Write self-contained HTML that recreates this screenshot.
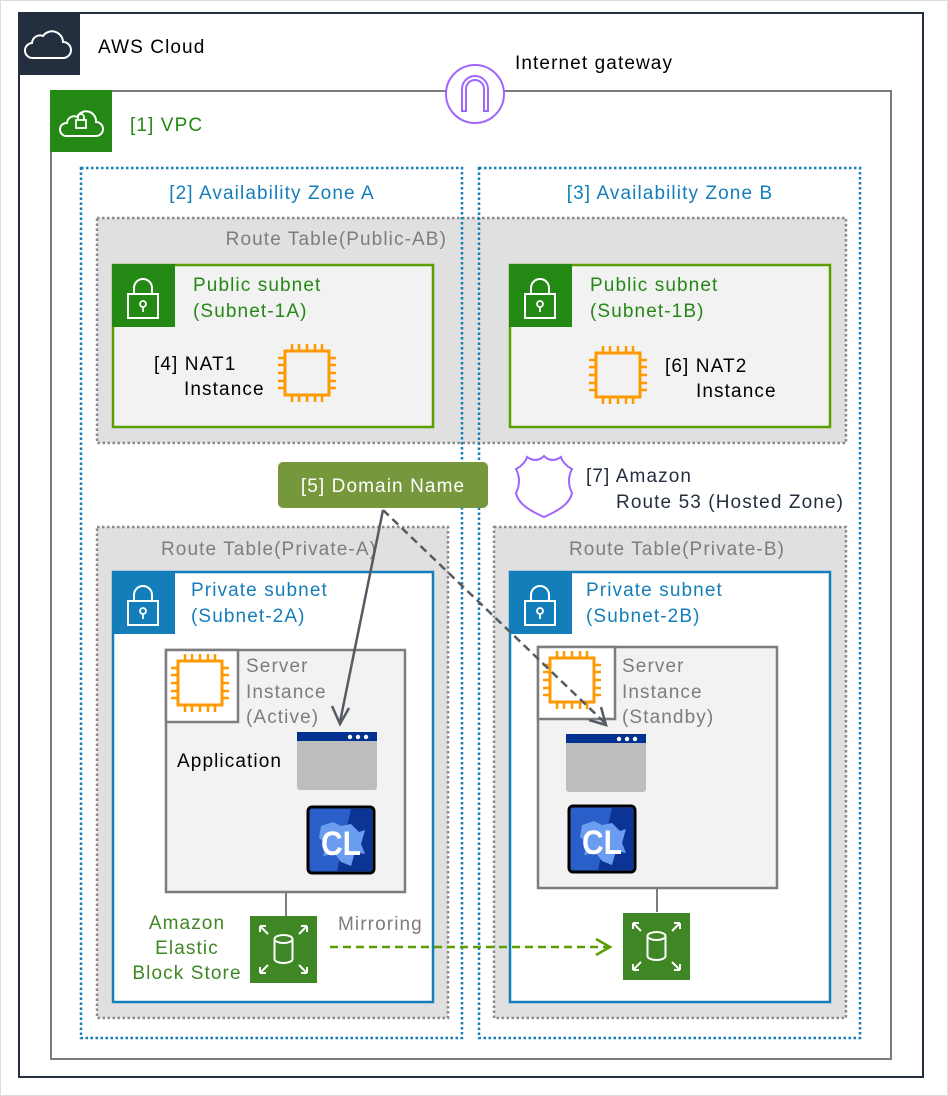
<!DOCTYPE html>
<html><head><meta charset="utf-8"><style>body{margin:0;background:#fff}svg{display:block}text{font-family:"Liberation Sans",sans-serif;font-size:19px;letter-spacing:1.1px}</style></head><body>
<svg width="948" height="1096" viewBox="0 0 948 1096" xmlns="http://www.w3.org/2000/svg">
<defs>
<g id="chip">
<rect x="7" y="7" width="44" height="44" fill="none" stroke="#ff9900" stroke-width="3"/>
<g stroke="#ff9900" stroke-width="2.5">
<path d="M14 0v7M21 0v7M29 0v7M37 0v7M44 0v7M14 51v7M21 51v7M29 51v7M37 51v7M44 51v7M0 14h7M0 21h7M0 29h7M0 37h7M0 44h7M51 14h7M51 21h7M51 29h7M51 37h7M51 44h7"/>
</g>
</g>
<g id="lockw">
<rect x="-15" y="-6" width="30" height="24" fill="none" stroke="#fff" stroke-width="2"/>
<path d="M-9 -6v-6a9 9 0 0 1 18 0v6" fill="none" stroke="#fff" stroke-width="2"/>
<circle cx="0" cy="4" r="3" fill="none" stroke="#fff" stroke-width="1.8"/>
<path d="M0 7v5" stroke="#fff" stroke-width="1.8"/>
</g>
<g id="win">
<rect x="0" y="0" width="80" height="58" rx="3" fill="#bdbdbd"/>
<rect x="0" y="0" width="80" height="9" fill="#03318f"/>
<circle cx="53" cy="5" r="2.2" fill="#fff"/><circle cx="61" cy="5" r="2.2" fill="#fff"/><circle cx="69" cy="5" r="2.2" fill="#fff"/>
</g>
<g id="cl">
<rect x="1" y="1" width="66" height="66" rx="4" fill="#2a5ec8" stroke="#000" stroke-width="3"/>
<path d="M44 3h21v62H30z" fill="#0c3494"/>
<path d="M14 20l12-4 8 4 10-2 8 8 6-2-4 14 4 10-10-2-4 14-10-4-6-8-12 2 4-12-8-6z" fill="#6a9cf0"/>
<text x="14" y="49" fill="#fff" textLength="40" lengthAdjust="spacingAndGlyphs" style="font-size:34px;font-weight:bold;letter-spacing:0">CL</text>
</g>
<g id="ebs">
<rect x="0" y="0" width="67" height="67" fill="#3f8624"/>
<g fill="none" stroke="#fff" stroke-width="2">
<ellipse cx="33.5" cy="23" rx="9" ry="4"/>
<path d="M24.5 23v20a9 4 0 0 0 18 0v-20"/>
<path d="M10 10l8 8M10 10h6M10 10v6M57 10l-8 8M57 10h-6M57 10v6M10 57l8-8M10 57h6M10 57v-6M57 57l-8-8M57 57h-6M57 57v-6"/>
</g>
</g>
</defs>
<rect x="0.5" y="0.5" width="947" height="1095" fill="#fff" stroke="#ddd"/>
<rect x="19" y="13" width="904" height="1064" fill="#fff" stroke="#232f3e" stroke-width="2"/>
<rect x="18" y="12" width="62" height="63" fill="#232f3e"/>
<path d="M33 58h30a8 8 0 0 0 0-16a11 11 0 0 0-20-6a8 8 0 0 0-11 7a7.5 7.5 0 0 0 1 15z" fill="none" stroke="#fff" stroke-width="2"/>
<text x="98" y="53" fill="#000">AWS Cloud</text>

<rect x="51" y="91" width="840" height="968" fill="#fff" stroke="#7d7d7d" stroke-width="2"/>
<rect x="50" y="90" width="62" height="62" fill="#248814"/>
<path d="M66 136h30a7 7 0 0 0 0-14a10 10 0 0 0-19-5a7 7 0 0 0-10 6a6.5 6.5 0 0 0-1 13z" fill="none" stroke="#fff" stroke-width="2"/>
<rect x="76" y="120" width="10" height="8" fill="none" stroke="#fff" stroke-width="1.8"/>
<path d="M78 120v-3a3 3 0 0 1 6 0v3" fill="none" stroke="#fff" stroke-width="1.8"/>
<text x="130" y="131" fill="#248814">[1] VPC</text>

<circle cx="475" cy="94" r="29" fill="#fff" stroke="#a166ff" stroke-width="2"/>
<path d="M462 111v-22a13 13 0 0 1 26 0v22h-4v-22a9 9 0 0 0-18 0v22z" fill="none" stroke="#a166ff" stroke-width="2"/>
<text x="515" y="69" fill="#000">Internet gateway</text>

<rect x="97" y="218" width="749" height="225" fill="#e0e0e0" stroke="#8a8a8a" stroke-width="2.5" stroke-dasharray="2.5 2.5"/>
<rect x="97" y="527" width="351" height="491" fill="#e0e0e0" stroke="#8a8a8a" stroke-width="2.5" stroke-dasharray="2.5 2.5"/>
<rect x="494" y="527" width="352" height="491" fill="#e0e0e0" stroke="#8a8a8a" stroke-width="2.5" stroke-dasharray="2.5 2.5"/>
<rect x="81" y="168" width="381" height="870" fill="none" stroke="#147eba" stroke-width="2.5" stroke-dasharray="2.5 2.5"/>
<rect x="479" y="168" width="381" height="870" fill="none" stroke="#147eba" stroke-width="2.5" stroke-dasharray="2.5 2.5"/>
<text x="272" y="199" fill="#147eba" text-anchor="middle">[2] Availability Zone A</text>
<text x="670" y="199" fill="#147eba" text-anchor="middle">[3] Availability Zone B</text>
<text x="447" y="245" fill="#7d7d7d" text-anchor="end">Route Table(Public-AB)</text>
<text x="269" y="555" fill="#7d7d7d" text-anchor="middle">Route Table(Private-A)</text>
<text x="677" y="555" fill="#7d7d7d" text-anchor="middle">Route Table(Private-B)</text>

<rect x="113" y="265" width="320" height="162" fill="#f2f2f2" stroke="#5a9e00" stroke-width="2.5"/>
<rect x="112" y="264" width="63" height="63" fill="#248814"/>
<use href="#lockw" x="143" y="300"/>
<text x="193" y="291" fill="#248814">Public subnet</text>
<text x="193" y="317" fill="#248814">(Subnet-1A)</text>
<text x="154" y="370" fill="#000">[4] NAT1</text>
<text x="184" y="395" fill="#000">Instance</text>
<use href="#chip" x="278" y="344"/>

<rect x="510" y="265" width="320" height="162" fill="#f2f2f2" stroke="#5a9e00" stroke-width="2.5"/>
<rect x="509" y="264" width="63" height="63" fill="#248814"/>
<use href="#lockw" x="540" y="300"/>
<text x="590" y="291" fill="#248814">Public subnet</text>
<text x="590" y="317" fill="#248814">(Subnet-1B)</text>
<use href="#chip" x="589" y="346"/>
<text x="665" y="372" fill="#000">[6] NAT2</text>
<text x="696" y="397" fill="#000">Instance</text>

<rect x="278" y="462" width="210" height="46" rx="5" fill="#77973c"/>
<text x="383" y="492" fill="#fff" text-anchor="middle">[5] Domain Name</text>
<path d="M516 469c6-3 10-8 11-12c6 4 12 4 17-1c5 5 11 5 17 1c1 4 5 9 11 12c-4 8-4 16 0 24c-2 10-12 17-28 24c-16-7-26-14-28-24c4-8 4-16 0-24z" fill="#fff" stroke="#a166ff" stroke-width="2"/>
<text x="586" y="482" fill="#232f3e">[7] Amazon</text>
<text x="616" y="508" fill="#232f3e">Route 53 (Hosted Zone)</text>

<rect x="113" y="572" width="320" height="430" fill="#fff" stroke="#147eba" stroke-width="2.5"/>
<rect x="112" y="571" width="63" height="63" fill="#147eba"/>
<use href="#lockw" x="143" y="607"/>
<text x="191" y="596" fill="#147eba">Private subnet</text>
<text x="191" y="622" fill="#147eba">(Subnet-2A)</text>

<rect x="510" y="572" width="320" height="430" fill="#fff" stroke="#147eba" stroke-width="2.5"/>
<rect x="509" y="571" width="63" height="63" fill="#147eba"/>
<use href="#lockw" x="540" y="607"/>
<text x="586" y="596" fill="#147eba">Private subnet</text>
<text x="586" y="622" fill="#147eba">(Subnet-2B)</text>

<rect x="166" y="650" width="239" height="242" fill="#f2f2f2" stroke="#7d7d7d" stroke-width="2.5"/>
<rect x="166" y="650" width="72" height="72" fill="#fff" stroke="#7d7d7d" stroke-width="2.5"/>
<use href="#chip" x="171" y="654"/>
<text x="246" y="672" fill="#7d7d7d">Server</text>
<text x="246" y="698" fill="#7d7d7d">Instance</text>
<text x="246" y="723" fill="#7d7d7d">(Active)</text>
<text x="177" y="767" fill="#000">Application</text>
<use href="#win" x="297" y="732"/>
<use href="#cl" x="307" y="806"/>
<path d="M286 892v24" stroke="#7d7d7d" stroke-width="2"/>
<use href="#ebs" x="250" y="916"/>
<text x="187" y="929" fill="#3f8624" text-anchor="middle">Amazon</text>
<text x="187" y="954" fill="#3f8624" text-anchor="middle">Elastic</text>
<text x="187" y="979" fill="#3f8624" text-anchor="middle">Block Store</text>

<rect x="538" y="647" width="239" height="241" fill="#f2f2f2" stroke="#7d7d7d" stroke-width="2.5"/>
<rect x="538" y="647" width="77" height="72" fill="#fff" stroke="#7d7d7d" stroke-width="2.5"/>
<use href="#chip" x="543" y="651"/>
<text x="622" y="672" fill="#7d7d7d">Server</text>
<text x="622" y="698" fill="#7d7d7d">Instance</text>
<text x="622" y="723" fill="#7d7d7d">(Standby)</text>
<use href="#win" x="566" y="734"/>
<use href="#cl" x="568" y="805"/>
<path d="M657 888v24" stroke="#7d7d7d" stroke-width="2"/>
<use href="#ebs" x="623" y="913"/>

<text x="338" y="930" fill="#7d7d7d">Mirroring</text>
<path d="M330 947H608" stroke="#5a9e00" stroke-width="2.5" stroke-dasharray="8 5"/>
<path d="M596 939l14 8l-14 8" fill="none" stroke="#5a9e00" stroke-width="2.5"/>

<path d="M383 510L340 722" stroke="#545b64" stroke-width="2.5"/>
<path d="M332 706l8 18l9-16" fill="none" stroke="#545b64" stroke-width="2.5"/>
<path d="M383 510L605 723" stroke="#545b64" stroke-width="2.5" stroke-dasharray="8 5"/>
<path d="M589 720l17 5l-5-18" fill="none" stroke="#545b64" stroke-width="2.5"/>
</svg>
</body></html>
